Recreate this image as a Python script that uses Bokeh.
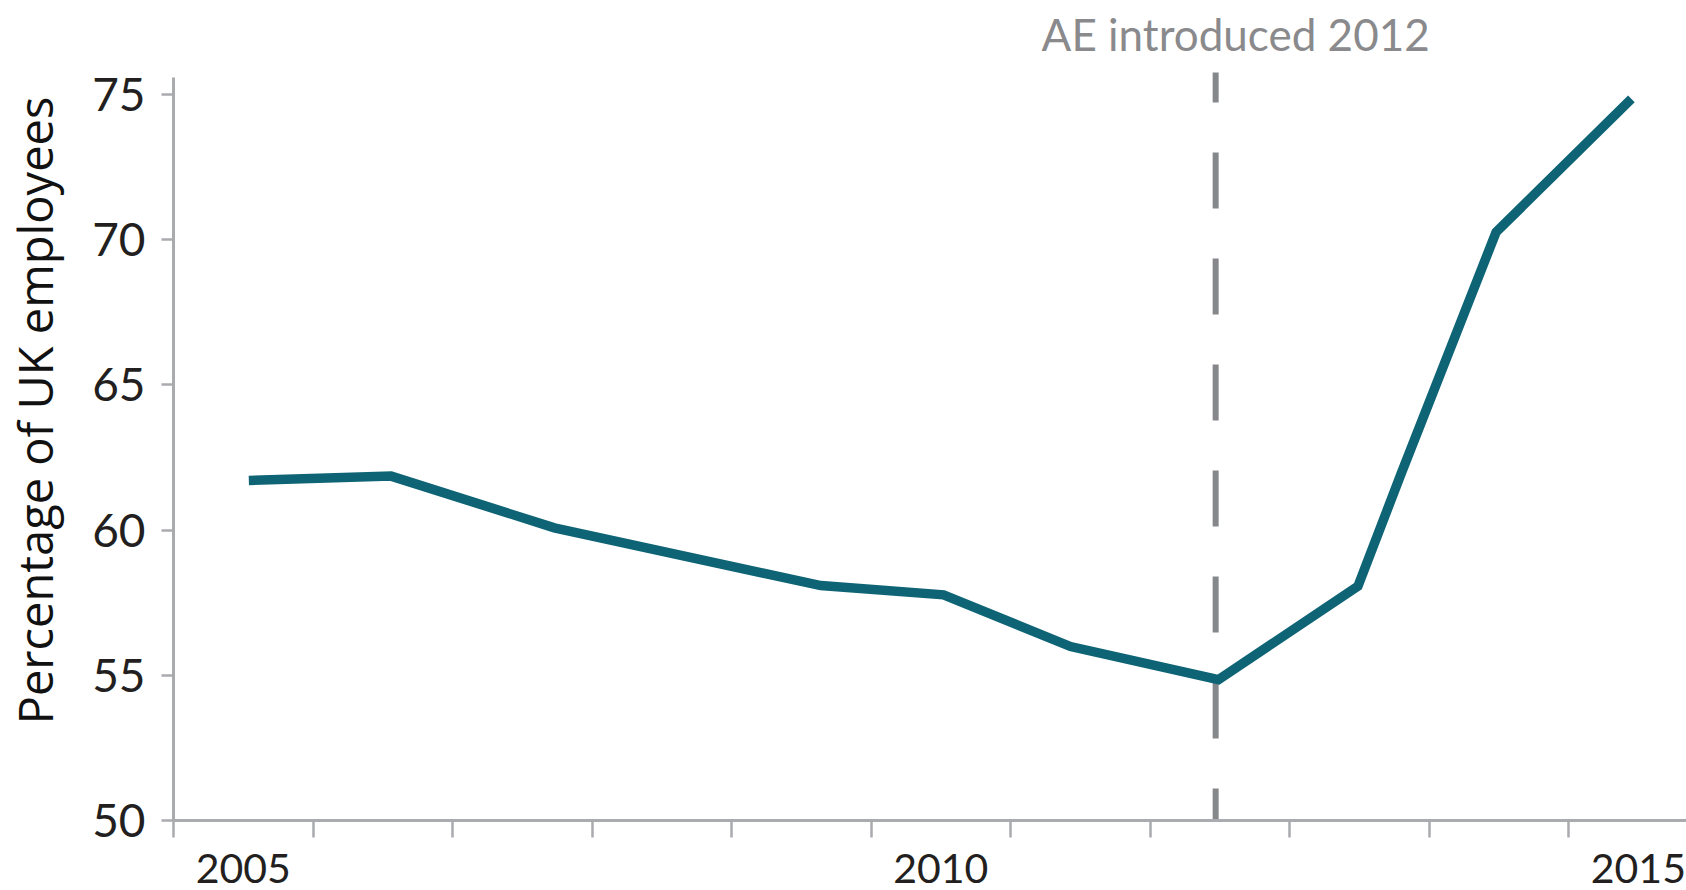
from bokeh.plotting import figure
from bokeh.models import FixedTicker, Range1d, Label
from bokeh.embed import file_html
from bokeh.resources import INLINE

# ---- data ----
years = [2005.54, 2006.56, 2007.73, 2009.64, 2010.52, 2011.43, 2012.49,
         2013.49, 2013.80, 2014.48, 2015.45]
pct_employees = [61.71, 61.86, 60.08, 58.09, 57.77, 55.99, 54.85,
                 58.07, 61.95, 70.26, 74.85]
year_ticks = [2005, 2006, 2007, 2008, 2009, 2010, 2011, 2012, 2013, 2014, 2015]
year_label_pos = [2005.5, 2010.5, 2015.5]
year_labels = ["2005", "2010", "2015"]
y_ticks = [50, 55, 60, 65, 70, 75]
ae_year = 2012.47
ae_text = "AE introduced 2012"
y_label = "Percentage of UK employees"

TEAL = "#0e6475"
AXIS_GREY = "#a9abae"
DASH_GREY = "#86878a"
TEXT_DARK = "#231f20"

p = figure(width=1686, height=890, output_backend="svg", toolbar_location=None,
           title=None,
           x_range=Range1d(2005, 2015.845), y_range=Range1d(50, 78.24),
           min_border_left=172, min_border_right=0, min_border_top=0,
           min_border_bottom=70)
p.outline_line_color = None
p.xgrid.visible = False
p.ygrid.visible = False
p.background_fill_color = "white"
p.border_fill_color = "white"

# AE reference line
p.segment(x0=[ae_year], y0=[50], x1=[ae_year], y1=[75.76],
          line_color=DASH_GREY, line_width=6, line_dash="56 50",
          line_dash_offset=24)

# main series
p.line(years, pct_employees, line_color=TEAL, line_width=9.5, line_join="miter")

# annotation
p.add_layout(Label(x=ae_year, y=76.17, x_offset=20, y_offset=27, text=ae_text,
                   text_align="center", text_baseline="alphabetic",
                   text_font="Lato", text_font_size="44px",
                   text_color="#8a8a8d"))

# x axis
xa = p.xaxis[0]
xa.ticker = FixedTicker(ticks=year_label_pos, minor_ticks=year_ticks)
xa.major_label_overrides = {k: v for k, v in zip(year_label_pos, year_labels)}
xa.major_tick_line_color = None
xa.major_tick_out = 0
xa.major_tick_in = 0
xa.minor_tick_out = 17
xa.minor_tick_in = 0
xa.minor_tick_line_color = AXIS_GREY
xa.minor_tick_line_width = 2.5
xa.axis_line_color = AXIS_GREY
xa.axis_line_width = 3
xa.major_label_text_font = "Lato"
xa.major_label_text_font_size = "41px"
xa.major_label_text_color = TEXT_DARK
xa.major_label_standoff = 16

# y axis
ya = p.yaxis[0]
ya.ticker = FixedTicker(ticks=y_ticks)
ya.bounds = (50, 75.6)
ya.major_tick_out = 12
ya.major_tick_in = 0
ya.major_tick_line_color = AXIS_GREY
ya.major_tick_line_width = 2.5
ya.minor_tick_line_color = None
ya.axis_line_color = AXIS_GREY
ya.axis_line_width = 3
ya.major_label_text_font = "Lato"
ya.major_label_text_font_size = "46px"
ya.major_label_text_color = TEXT_DARK
ya.major_label_standoff = 16
ya.axis_label = y_label
ya.axis_label_text_font = "Open Sans"
ya.axis_label_text_font_style = "normal"
ya.axis_label_text_font_size = "47px"
ya.axis_label_text_color = "#111111"
ya.axis_label_standoff = 22

open("out.html", "w").write(file_html(p, INLINE))
